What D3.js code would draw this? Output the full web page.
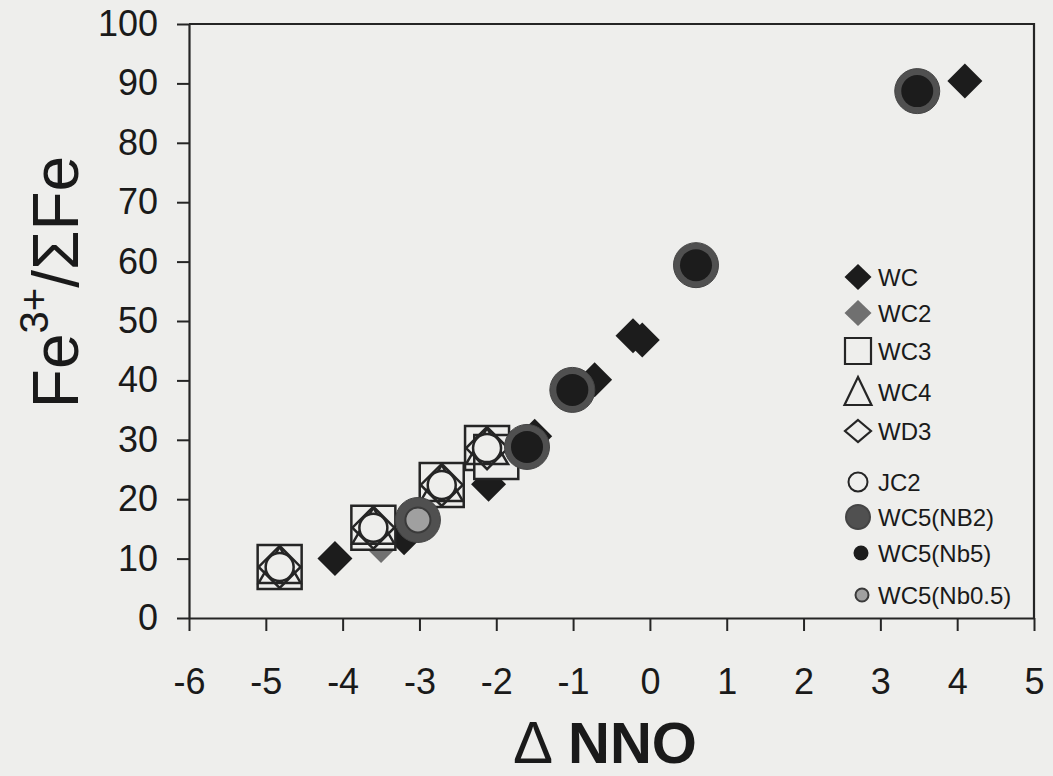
<!DOCTYPE html>
<html>
<head>
<meta charset="utf-8">
<script src="https://cdn.jsdelivr.net/npm/d3@7"></script>
<style>
  html, body { margin: 0; padding: 0; background: #eeeeec; }
  svg { display: block; font-family: "Liberation Sans", Arial, sans-serif; }
</style>
</head>
<body>
<svg id="chart" width="1053" height="776"></svg>
<script>
// tick values
const xTicks = [-6, -5, -4, -3, -2, -1, 0, 1, 2, 3, 4, 5];
const yTicks = [0, 10, 20, 30, 40, 50, 60, 70, 80, 90, 100];

// series: [ΔNNO, Fe3+/ΣFe]
const seriesNames = ["WC", "WC2", "WC3", "WC4", "WD3", "JC2", "WC5(NB2)", "WC5(Nb5)", "WC5(Nb0.5)"];
const wc   = [[-4.1, 10], [-3.2, 13.5], [-2.1, 22.5], [-1.5, 30.6], [-0.72, 40.1], [-0.22, 47.5], [-0.1, 46.8], [4.1, 90.4]];
const wc2  = [[-3.5, 11.8]];
const wc3  = [[-4.82, 8.6], [-3.6, 15.2], [-2.71, 22.4], [-2.12, 28.6], [-2.0, 27.1]];
const wc4  = [[-4.82, 8.6], [-3.6, 15.2], [-2.71, 22.4], [-2.12, 28.6]];
const wd3  = [[-4.82, 8.6], [-3.6, 15.2], [-2.71, 22.4], [-2.12, 28.6]];
const jc2  = [[-4.82, 8.6], [-3.6, 15.2], [-2.71, 22.4], [-2.12, 28.6]];
const nb2  = [[-3.02, 16.5], [-1.6, 28.8], [-1.01, 38.4], [0.6, 59.4], [3.48, 88.7]];
const nb5  = [[-1.6, 28.8], [-1.01, 38.4], [0.6, 59.4], [3.48, 88.7]];
const nb05 = [[-3.02, 16.5]];

const bg = "#eeeeec";
const ink = "#252525";

const svg = d3.select("#chart");
const margin = { top: 24, right: 19, bottom: 158, left: 189 };
const width = 1053 - margin.left - margin.right;
const height = 776 - margin.top - margin.bottom;

const x = d3.scaleLinear().domain([-6, 5]).range([0, width]);
const y = d3.scaleLinear().domain([0, 100]).range([height, 0]);

const g = svg.append("g")
    .attr("transform", "translate(" + margin.left + "," + margin.top + ")");

// marker shapes
function diamond(r, ry) {
    ry = ry || r;
    return "M0," + (-ry) + "L" + r + ",0L0," + ry + "L" + (-r) + ",0Z";
}
function square(h) {
    return "M" + (-h) + "," + (-h) + "H" + h + "V" + h + "H" + (-h) + "Z";
}
function triangle(w, top, bot) {
    return "M0," + (-top) + "L" + w + "," + bot + "L" + (-w) + "," + bot + "Z";
}

const styles = {
    "WC":        { path: diamond(17.5), fill: "#1c1c1c", stroke: "none", sw: 0,
                   lpath: diamond(13.5, 13), lx: 858 },
    "WC2":       { path: diamond(15), fill: "#707070", stroke: "none", sw: 0,
                   lpath: diamond(13.5, 13), lx: 858 },
    "WC3":       { path: square(22), fill: bg, stroke: ink, sw: 2.5,
                   lpath: square(13), lx: 858 },
    "WC4":       { path: triangle(21, 20, 16), fill: "none", stroke: ink, sw: 2.5,
                   lpath: triangle(13.5, 15, 13), lx: 858 },
    "WD3":       { path: diamond(21), fill: "none", stroke: ink, sw: 2.5,
                   lpath: diamond(13, 11), lx: 858 },
    "JC2":       { r: 14, fill: bg, stroke: ink, sw: 2.5, lr: 9.5, lx: 858 },
    "WC5(NB2)":  { r: 22.5, fill: "#505050", stroke: "#444", sw: 1, lr: 12, lx: 858 },
    "WC5(Nb5)":  { r: 16, fill: "#1c1c1c", stroke: "none", sw: 0, lr: 7.5, lx: 861 },
    "WC5(Nb0.5)":{ r: 12.5, fill: "#a0a0a0", stroke: "#3a3a3a", sw: 2, lr: 6.5, lx: 862 }
};
const seriesData = [wc, wc2, wc3, wc4, wd3, jc2, nb2, nb5, nb05];

// axes (plain hyphen minus, as in the original)
const yAxis = d3.axisLeft(y).tickValues(yTicks).tickSize(12).tickSizeOuter(0).tickPadding(19)
    .tickFormat(d => String(d));
const xAxis = d3.axisBottom(x).tickValues(xTicks).tickSize(13).tickSizeOuter(0).tickPadding(37)
    .tickFormat(d => String(d));

g.append("g").attr("class", "y-axis").call(yAxis);
g.append("g").attr("class", "x-axis")
    .attr("transform", "translate(0," + height + ")")
    .call(xAxis);

g.selectAll(".y-axis .tick text, .x-axis .tick text")
    .attr("font-size", 36)
    .attr("fill", "#1a1a1a")
    .style("font-family", "'Liberation Sans', Arial, sans-serif");
g.selectAll(".tick line").attr("stroke", ink).attr("stroke-width", 2);
g.selectAll(".domain").attr("stroke", ink).attr("stroke-width", 2.2);

// frame (top and right)
g.append("path")
    .attr("d", "M0,0H" + width + "V" + height)
    .attr("fill", "none")
    .attr("stroke", ink)
    .attr("stroke-width", 2.2);

// points
seriesNames.forEach(function(name, i) {
    const st = styles[name];
    const sg = g.append("g").attr("class", "series");
    if (st.path) {
        sg.selectAll("path")
            .data(seriesData[i])
            .enter().append("path")
            .attr("transform", d => "translate(" + x(d[0]) + "," + y(d[1]) + ")")
            .attr("d", st.path)
            .attr("fill", st.fill)
            .attr("stroke", st.stroke)
            .attr("stroke-width", st.sw)
            .attr("stroke-linejoin", "miter");
    } else {
        sg.selectAll("circle")
            .data(seriesData[i])
            .enter().append("circle")
            .attr("cx", d => x(d[0]))
            .attr("cy", d => y(d[1]))
            .attr("r", st.r)
            .attr("fill", st.fill)
            .attr("stroke", st.stroke)
            .attr("stroke-width", st.sw);
    }
});

// legend (page coordinates)
const legendY = [277, 313, 351, 392, 431, 482, 517, 553, 595];
const legend = svg.append("g").attr("class", "legend");
seriesNames.forEach(function(name, i) {
    const st = styles[name];
    const cy = legendY[i];
    if (st.lpath) {
        legend.append("path")
            .attr("transform", "translate(" + st.lx + "," + cy + ")")
            .attr("d", st.lpath)
            .attr("fill", st.fill === bg ? "none" : st.fill)
            .attr("stroke", st.stroke)
            .attr("stroke-width", st.sw ? 2.2 : 0);
    } else {
        legend.append("circle")
            .attr("cx", st.lx)
            .attr("cy", cy)
            .attr("r", st.lr)
            .attr("fill", st.fill === bg ? "none" : st.fill)
            .attr("stroke", st.stroke)
            .attr("stroke-width", st.sw ? 2 : 0);
    }
    legend.append("text")
        .attr("x", 878)
        .attr("y", cy + 8.5)
        .attr("font-size", 24)
        .attr("fill", "#1a1a1a")
        .text(name);
});

// axis titles
const yTitle = svg.append("text")
    .attr("transform", "translate(78,282) rotate(-90)")
    .attr("text-anchor", "middle")
    .attr("font-size", 64)
    .attr("fill", "#1a1a1a");
yTitle.append("tspan").text("Fe");
yTitle.append("tspan").attr("font-size", 40).attr("dy", -30).text("3+");
yTitle.append("tspan").attr("dy", 30).text("/\u03A3Fe");

const xTitle = svg.append("text")
    .attr("x", 513)
    .attr("y", 763)
    .attr("font-size", 60)
    .attr("fill", "#1a1a1a");
xTitle.append("tspan").text("\u0394");
xTitle.append("tspan").attr("x", 568).attr("font-weight", "bold").attr("font-size", 58).text("NNO");
</script>
</body>
</html>
